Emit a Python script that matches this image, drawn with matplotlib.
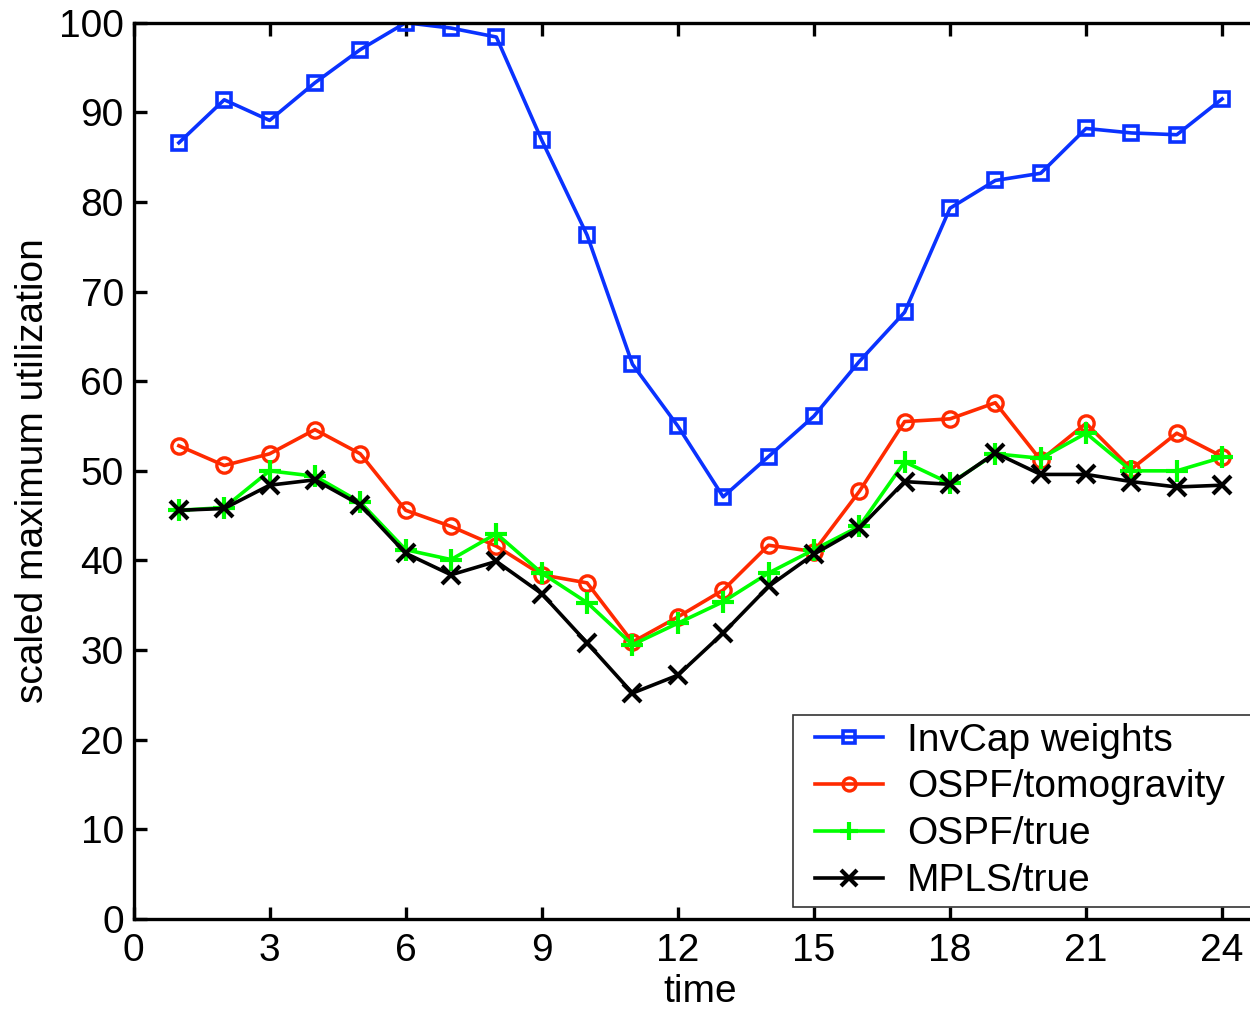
import matplotlib
matplotlib.use("Agg")
import matplotlib.pyplot as plt
from matplotlib.legend_handler import HandlerLine2D

plt.rcParams['font.family'] = ['Liberation Sans', 'DejaVu Sans']

hours = list(range(1, 25))

invcap = [86.6, 91.4, 89.1, 93.3, 97.0, 100.0, 99.4, 98.4, 86.9, 76.3, 61.9, 55.0,
          47.1, 51.6, 56.1, 62.2, 67.7, 79.3, 82.4, 83.2, 88.2, 87.7, 87.5, 91.5]
ospf_tomo = [52.8, 50.6, 51.9, 54.6, 51.9, 45.6, 43.8, 41.6, 38.4, 37.5, 30.9, 33.7,
             36.7, 41.7, 41.0, 47.7, 55.5, 55.8, 57.6, 51.2, 55.3, 50.2, 54.2, 51.6]
ospf_true = [45.6, 45.9, 50.0, 49.4, 46.5, 41.2, 40.1, 43.0, 38.6, 35.3, 30.6, 33.0,
             35.4, 38.6, 41.2, 43.8, 51.0, 48.6, 51.9, 51.4, 54.2, 50.0, 50.0, 51.5]
mpls_true = [45.6, 45.8, 48.4, 49.0, 46.2, 40.8, 38.4, 39.9, 36.3, 30.8, 25.2, 27.2,
             31.9, 37.1, 40.7, 43.6, 48.8, 48.5, 52.0, 49.6, 49.6, 48.8, 48.2, 48.4]

labels = ['InvCap weights', 'OSPF/tomogravity', 'OSPF/true', 'MPLS/true']
xticks = [0, 3, 6, 9, 12, 15, 18, 21, 24]
yticks = [0, 10, 20, 30, 40, 50, 60, 70, 80, 90, 100]

FS = 28
W, H = 1250, 1011
fig = plt.figure(figsize=(W / 100, H / 100), dpi=100)
left, bottom, top = 133.5, 919, 22.7
unit_x = 45.36
ax = fig.add_axes([left / W, (H - bottom) / H, 25 * unit_x / W, (bottom - top) / H])

lw = 2.6
ax.plot(hours, invcap, color='#0a32ff', lw=lw, marker='s', ms=10, mfc='none',
        mew=2.6, label=labels[0])
ax.plot(hours, ospf_tomo, color='#ff2a00', lw=lw, marker='o', ms=11, mfc='none',
        mew=2.4, label=labels[1])
ax.plot(hours, ospf_true, color='#00ff00', lw=lw, marker='+', ms=16,
        mew=3.0, label=labels[2])
ax.plot(hours, mpls_true, color='black', lw=lw, marker='x', ms=13,
        mew=3.0, label=labels[3])

ax.set_xlim(0, 25)
ax.set_ylim(0, 100)
ax.set_xticks(xticks)
ax.set_yticks(yticks)
ax.tick_params(direction='in', length=9, width=2.4, labelsize=FS,
               top=True, right=True, pad=7)
ax.tick_params(axis='x', pad=10)
for s in ax.spines.values():
    s.set_linewidth(2.4)

ax.set_xlabel('time', fontsize=FS, labelpad=4)
ax.set_ylabel('scaled maximum utilization', fontsize=FS, labelpad=5.5)

# legend frame runs off the right edge of the figure
leg = ax.legend(loc='lower left', bbox_to_anchor=(0.5817, 0.0134, 0.45, 0.2),
                mode='expand', borderaxespad=0, fontsize=FS, handlelength=2.1,
                handletextpad=0.62, borderpad=0.2, labelspacing=0.28,
                fancybox=False, framealpha=1, edgecolor='#333333',
                handler_map={ln: HandlerLine2D(xpad=0.35) for ln in ax.get_lines()})
leg.get_frame().set_linewidth(1.2)
for h in leg.legend_handles:
    h.set_markersize(h.get_markersize() * 0.85)

fig.savefig('out.png', dpi=100)
